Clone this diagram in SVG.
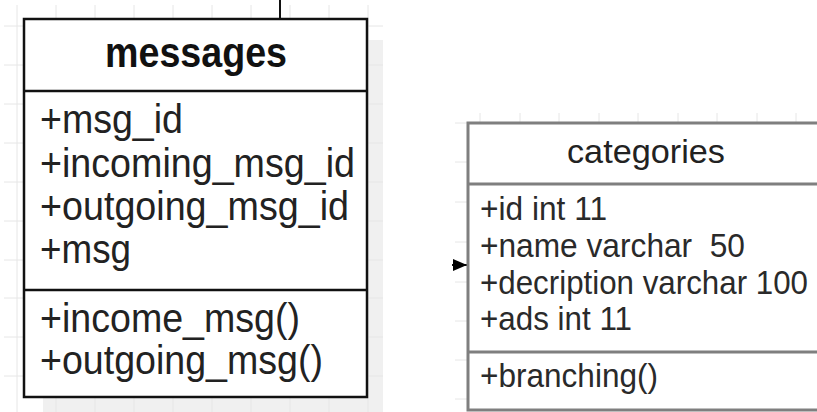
<svg xmlns="http://www.w3.org/2000/svg" width="817" height="412" viewBox="0 0 817 412">
  <style>
    .grid line { stroke: #e6e6e6; stroke-width: 1; }
    .box1 { fill: #ffffff; stroke: #111111; stroke-width: 2.5; }
    .div1 { stroke: #111111; stroke-width: 2.5; }
    .box2 { fill: #ffffff; stroke: #7f7f7f; stroke-width: 3; }
    .div2 { stroke: #7f7f7f; stroke-width: 3; }
    .t1 { font-family: "Liberation Sans", Arial, sans-serif; font-size: 41px; fill: #222222; }
    .h1 { font-family: "Liberation Sans", Arial, sans-serif; font-size: 43px; font-weight: bold; fill: #111111; }
    .t2 { font-family: "Liberation Sans", Arial, sans-serif; font-size: 33px; fill: #2a2a2a; white-space: pre; }
    .h2 { font-family: "Liberation Sans", Arial, sans-serif; font-size: 34px; fill: #222222; }
    .conn { stroke: #111111; stroke-width: 2; fill: none; }
  </style>
  <defs>
    <marker id="arrow" viewBox="0 0 14 12" refX="14" refY="6" markerWidth="14" markerHeight="12" markerUnits="userSpaceOnUse" orient="auto">
      <path d="M0,0 L14,6 L0,12 Z" fill="#000000"/>
    </marker>
  </defs>
  <rect x="0" y="0" width="817" height="412" fill="#ffffff"/>
  <rect x="43" y="40" width="340" height="372" fill="#f0f0f0"/>
  <g class="grid">
    <line x1="17" y1="5" x2="17" y2="412"/>
    <line x1="56" y1="5" x2="56" y2="412"/>
    <line x1="95" y1="5" x2="95" y2="412"/>
    <line x1="134" y1="5" x2="134" y2="412"/>
    <line x1="173" y1="5" x2="173" y2="412"/>
    <line x1="212" y1="5" x2="212" y2="412"/>
    <line x1="251" y1="5" x2="251" y2="412"/>
    <line x1="290" y1="5" x2="290" y2="412"/>
    <line x1="329" y1="5" x2="329" y2="412"/>
    <line x1="368" y1="5" x2="368" y2="412"/>
    <line x1="4" y1="26" x2="383" y2="26"/>
    <line x1="4" y1="65" x2="383" y2="65"/>
    <line x1="4" y1="104" x2="383" y2="104"/>
    <line x1="4" y1="143" x2="383" y2="143"/>
    <line x1="4" y1="182" x2="383" y2="182"/>
    <line x1="4" y1="221" x2="383" y2="221"/>
    <line x1="4" y1="260" x2="383" y2="260"/>
    <line x1="4" y1="298" x2="383" y2="298"/>
    <line x1="4" y1="337" x2="383" y2="337"/>
    <line x1="4" y1="376" x2="383" y2="376"/>
  </g>
  <g class="grid">
    <line x1="480" y1="113" x2="480" y2="123"/>
    <line x1="520" y1="113" x2="520" y2="123"/>
    <line x1="559" y1="113" x2="559" y2="123"/>
    <line x1="599" y1="113" x2="599" y2="123"/>
    <line x1="638" y1="113" x2="638" y2="123"/>
    <line x1="678" y1="113" x2="678" y2="123"/>
    <line x1="717" y1="113" x2="717" y2="123"/>
    <line x1="757" y1="113" x2="757" y2="123"/>
    <line x1="796" y1="113" x2="796" y2="123"/>
    <line x1="455" y1="123" x2="468" y2="123"/>
    <line x1="455" y1="162" x2="468" y2="162"/>
    <line x1="455" y1="202" x2="468" y2="202"/>
    <line x1="455" y1="242" x2="468" y2="242"/>
    <line x1="455" y1="282" x2="468" y2="282"/>
    <line x1="455" y1="321" x2="468" y2="321"/>
    <line x1="455" y1="360" x2="468" y2="360"/>
    <line x1="455" y1="399" x2="468" y2="399"/>
  </g>
  <g id="connectors">
    <line class="conn" x1="280" y1="0" x2="280" y2="19"/>
    <path class="conn" d="M452,265 L467,265" stroke="none" marker-end="url(#arrow)"/>
  </g>
  <g id="messages">
    <rect class="box1" x="24" y="19" width="343" height="378"/>
    <line class="div1" x1="24" y1="91" x2="367" y2="91"/>
    <line class="div1" x1="24" y1="290" x2="367" y2="290"/>
    <text class="h1" x="105" y="67" textLength="182" lengthAdjust="spacingAndGlyphs">messages</text>
    <text class="t1" x="40" y="133" textLength="143" lengthAdjust="spacingAndGlyphs">+msg_id</text>
    <text class="t1" x="40" y="177" textLength="315" lengthAdjust="spacingAndGlyphs">+incoming_msg_id</text>
    <text class="t1" x="40" y="220" textLength="309" lengthAdjust="spacingAndGlyphs">+outgoing_msg_id</text>
    <text class="t1" x="40" y="263" textLength="91" lengthAdjust="spacingAndGlyphs">+msg</text>
    <text class="t1" x="40" y="332" textLength="260" lengthAdjust="spacingAndGlyphs">+income_msg()</text>
    <text class="t1" x="40" y="374" textLength="283" lengthAdjust="spacingAndGlyphs">+outgoing_msg()</text>
  </g>
  <g id="categories">
    <rect class="box2" x="468" y="123" width="351" height="287"/>
    <line class="div2" x1="468" y1="184" x2="819" y2="184"/>
    <line class="div2" x1="468" y1="352" x2="819" y2="352"/>
    <text class="h2" x="567" y="163" textLength="158" lengthAdjust="spacingAndGlyphs">categories</text>
    <text class="t2" x="480" y="220" textLength="127" lengthAdjust="spacingAndGlyphs">+id int 11</text>
    <text class="t2" x="480" y="257" textLength="265" lengthAdjust="spacingAndGlyphs">+name varchar  50</text>
    <text class="t2" x="480" y="294" textLength="328" lengthAdjust="spacingAndGlyphs">+decription varchar 100</text>
    <text class="t2" x="480" y="330" textLength="152" lengthAdjust="spacingAndGlyphs">+ads int 11</text>
    <text class="t2" x="480" y="387" textLength="178" lengthAdjust="spacingAndGlyphs">+branching()</text>
  </g>
</svg>
